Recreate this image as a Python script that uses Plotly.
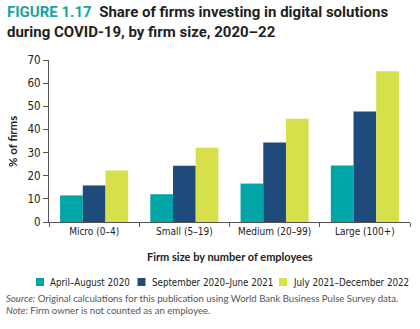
import plotly.graph_objects as go

categories = ["Micro (0–4)", "Small (5–19)", "Medium (20–99)", "Large (100+)"]
series_names = ["April–August 2020", "September 2020–June 2021", "July 2021–December 2022"]
s1 = [11.5, 12.0, 16.6, 24.4]
s2 = [15.8, 24.3, 34.3, 47.8]
s3 = [22.3, 32.1, 44.6, 65.1]
y_ticks = [0, 10, 20, 30, 40, 50, 60, 70]

colors = ["#00a5a8", "#1f4a7c", "#d5e04a"]

W, H = 420, 329
L, R, T, B = 49, 10, 60, 107
ph = H - T - B
pw = W - L - R

def py(p):
    return (H - B - p) / ph

def px(p):
    return (p - L) / pw

lab = "Lato"
cond = "DejaVu Sans Condensed"

fig = go.Figure()
for name, vals, c in zip(series_names, [s1, s2, s3], colors):
    fig.add_trace(go.Bar(x=categories, y=vals, name=name, marker=dict(color=c, line=dict(width=0))))

fig.update_layout(
    width=W, height=H,
    margin=dict(l=L, r=R, t=T, b=B, autoexpand=False),
    paper_bgcolor="white", plot_bgcolor="white",
    barmode="group", bargap=0.245, bargroupgap=0,
    showlegend=False,
    font=dict(family=lab, color="#222"),
)
fig.update_xaxes(showline=True, linecolor="#555", linewidth=1, ticks="outside", tickson="boundaries",
                 ticklen=4, tickcolor="#555", tickfont=dict(family=cond, size=10, color="#222"),
                 showgrid=False, tickangle=0)
fig.update_yaxes(range=[0, 70], tickvals=y_ticks, showline=True, linecolor="#555", linewidth=1,
                 ticks="outside", ticklen=5, tickcolor="#555", showgrid=False, zeroline=False,
                 tickfont=dict(family=cond, size=11.5, color="#222"))

ann = []
shapes = []
ann.append(dict(text="<b><span style='color:#1aa3a3'>FIGURE 1.17</span>  Share of firms investing in digital solutions<br>during COVID-19, by firm size, 2020–22</b>",
                xref="paper", yref="paper", x=px(5), y=py(1), xanchor="left", yanchor="top",
                align="left", showarrow=False, font=dict(family="Roboto", size=15, color="#231f20")))
ann.append(dict(text="<b>% of firms</b>", textangle=-90, xref="paper", yref="paper", x=px(12), y=py(142),
                xanchor="center", yanchor="middle", showarrow=False,
                font=dict(family=lab, size=11.5, color="#222")))
ann.append(dict(text="<b>Firm size by number of employees</b>", xref="paper", yref="paper", x=px(230), y=py(256),
                xanchor="center", yanchor="middle", showarrow=False,
                font=dict(family=lab, size=11, color="#222")))

# legend (manual)
leg_sq_x = [36, 137.5, 279]
leg_y = 282
for name, c, sx in zip(series_names, colors, leg_sq_x):
    shapes.append(dict(type="rect", xref="paper", yref="paper", x0=px(sx), x1=px(sx + 8),
                       y0=py(leg_y + 4), y1=py(leg_y - 4), fillcolor=c, line=dict(width=0)))
    ann.append(dict(text=name, xref="paper", yref="paper", x=px(sx + 12), y=py(leg_y), xanchor="left",
                    yanchor="middle", showarrow=False, font=dict(family=cond, size=9.7, color="#222")))

ann.append(dict(text="<i>Source:</i> Original calculations for this publication using World Bank Business Pulse Survey data.",
                xref="paper", yref="paper", x=px(4), y=py(298.5), xanchor="left", yanchor="middle",
                align="left", showarrow=False, font=dict(family=lab, size=9.6, color="#555")))
ann.append(dict(text="<i>Note:</i> Firm owner is not counted as an employee.",
                xref="paper", yref="paper", x=px(4), y=py(310.5), xanchor="left", yanchor="middle",
                align="left", showarrow=False, font=dict(family=lab, size=9.6, color="#555")))
fig.update_layout(annotations=ann, shapes=shapes)

fig.write_html("out.html")
